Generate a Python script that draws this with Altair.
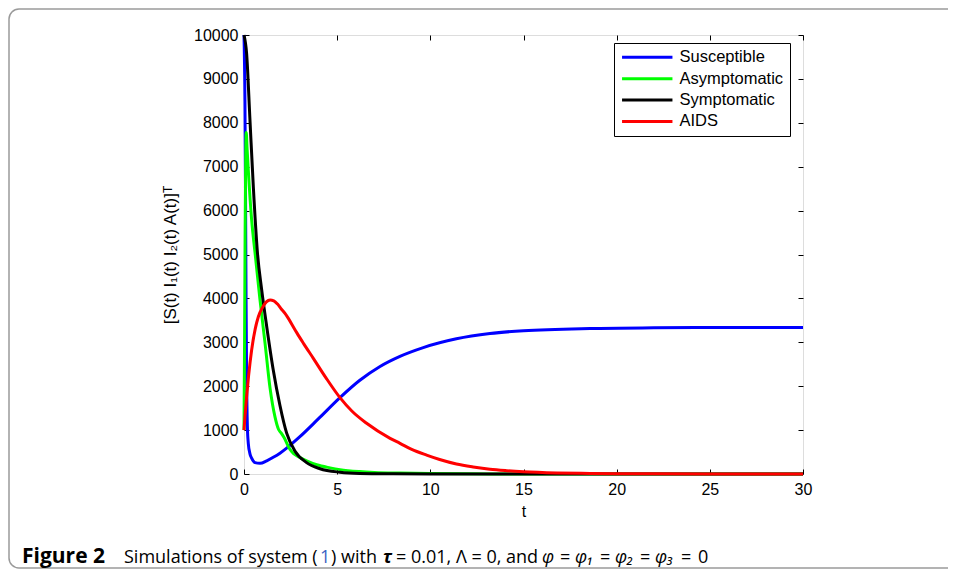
import altair as alt
import pandas as pd

series_names = ["Susceptible", "Asymptomatic", "Symptomatic", "AIDS"]
series_colors = ["#0000ff", "#00ff00", "#000000", "#ff0000"]

t_sus = [0, 0.05, 0.08, 0.11, 0.14, 0.18, 0.23, 0.32, 0.41, 0.59, 0.86, 1.22, 1.57, 1.93,
         2.29, 3.0, 4.0, 5.15, 6.2, 7.3, 8.37, 9.62, 11.4, 13.2, 15.0, 18.57, 22, 26, 30]
v_sus = [10000, 8500, 6500, 4000, 2200, 1100, 700, 460, 360, 260, 243, 300, 380, 475,
         590, 850, 1260, 1740, 2130, 2450, 2680, 2880, 3080, 3200, 3265, 3315, 3330, 3336, 3338]

t_asy = [0, 0.03, 0.06, 0.09, 0.12, 0.16, 0.23, 0.41, 0.59, 0.86, 1.13, 1.40, 1.66, 1.85,
         2.0, 2.15, 2.47, 2.65, 2.92, 3.36, 3.9, 4.62, 5.15, 6.2, 7.0, 8.37, 10, 12, 15, 20, 30]
v_asy = [1000, 3000, 5500, 7200, 7780, 7450, 6925, 5786, 5050, 3964, 2977, 1950, 1306, 1020,
         930, 830, 560, 470, 395, 300, 210, 140, 100, 55, 35, 20, 10, 4, 1, 0, 0]

t_sym = [0, 0.14, 0.32, 0.5, 0.72, 0.95, 1.22, 1.57, 1.93, 2.29, 2.74, 3.36, 4.08, 5.15,
         6.2, 8, 10, 30]
v_sym = [10000, 9583, 8064, 6545, 5050, 4191, 3356, 2369, 1560, 930, 520, 260, 120, 40,
         12, 3, 0, 0]

t_aids = [0, 0.05, 0.14, 0.25, 0.41, 0.6, 0.77, 1.0, 1.2, 1.4, 1.6, 1.8, 2.0, 2.2, 2.38,
          2.65, 2.83, 3.2, 3.72, 4.4, 5.15, 5.8, 6.58, 7.84, 8.37, 9.0, 9.8, 10.5, 11.4,
          12.3, 13.2, 14.1, 15.0, 16.8, 18.57, 20, 22, 25, 30]
v_aids = [1000, 1300, 1761, 2250, 2825, 3300, 3583, 3800, 3920, 3964, 3945, 3870, 3760,
          3660, 3546, 3350, 3220, 2970, 2635, 2190, 1740, 1430, 1155, 813, 699, 560, 430,
          330, 228, 160, 107, 75, 52, 25, 12, 6, 3, 1, 0]

x_ticks = [0, 5, 10, 15, 20, 25, 30]
y_ticks = [0, 1000, 2000, 3000, 4000, 5000, 6000, 7000, 8000, 9000, 10000]

rows = []
for name, ts, vs in zip(series_names, [t_sus, t_asy, t_sym, t_aids],
                        [v_sus, v_asy, v_sym, v_aids]):
    for t, v in zip(ts, vs):
        rows.append({"t": t, "value": v, "series": name})
df = pd.DataFrame(rows)

W, H = 559, 439
PAD_L, PAD_T, PAD_R, PAD_B = 236, 27, 145, 96
FONT = "Liberation Sans"
CAP_FONT = "Open Sans"

xs = alt.Scale(domain=[0, 30], nice=False, zero=False)
ys = alt.Scale(domain=[0, 10000], nice=False)

lines = alt.Chart(df).mark_line(strokeWidth=3, interpolate="monotone").encode(
    x=alt.X("t:Q", scale=xs, axis=alt.Axis(
        title="t", values=x_ticks, ticks=False, tickSize=0, labelPadding=7,
        domain=False, grid=False, labelFont=FONT, labelFontSize=16,
        titleFont=FONT, titleFontSize=16, titleFontWeight="normal",
        labelColor="black", titleColor="black", titlePadding=6, labelFlush=False)),
    y=alt.Y("value:Q", scale=ys, axis=alt.Axis(
        title="[S(t) I₁(t) I₂(t) A(t)]ᵀ", values=y_ticks, format="d", ticks=False,
        tickSize=0, labelPadding=6, domain=False, grid=False, labelFont=FONT,
        labelFontSize=16, titleFont=FONT, titleFontSize=17, titleFontWeight="normal",
        labelColor="black", titleColor="black", titlePadding=14, labelFlush=False)),
    color=alt.Color("series:N", scale=alt.Scale(domain=series_names, range=series_colors),
                    legend=alt.Legend(
                        title=None, orient="none", legendX=370, legendY=8,
                        symbolType="M-4.2,0H4.2", symbolSize=144, symbolStrokeWidth=3,
                        symbolOffset=19, labelOffset=24,
                        labelFont=FONT, labelFontSize=16.5, labelColor="black",
                        rowPadding=4.4, padding=6, strokeColor="black", fillColor="white",
                        labelLimit=300)),
    order=alt.Order("t:Q"),
    detail="series:N",
)

# inner ticks: bottom & left edges
ticks_a = alt.Chart(df).mark_line(opacity=0).encode(
    x=alt.X("t:Q", scale=xs, axis=alt.Axis(
        orient="top", offset=-H, labels=False, title=None, domain=False, grid=False,
        values=x_ticks, tickSize=5, tickColor="black", tickWidth=1)),
    y=alt.Y("value:Q", scale=ys, axis=alt.Axis(
        orient="right", offset=-W, labels=False, title=None, domain=False, grid=False,
        values=y_ticks, tickSize=5, tickColor="black", tickWidth=1)),
)
# inner ticks: top & right edges
ticks_b = alt.Chart(df).mark_line(opacity=0).encode(
    x=alt.X("t:Q", scale=xs, axis=alt.Axis(
        orient="bottom", offset=-H, labels=False, title=None, domain=False, grid=False,
        values=x_ticks, tickSize=5, tickColor="black", tickWidth=1)),
    y=alt.Y("value:Q", scale=ys, axis=alt.Axis(
        orient="left", offset=-W, labels=False, title=None, domain=False, grid=False,
        values=y_ticks, tickSize=5, tickColor="black", tickWidth=1)),
)

one = pd.DataFrame({"k": [0]})
frame = alt.Chart(one).mark_rect(
    fill="white", fillOpacity=0, stroke="#9a9a9a", strokeWidth=1.5,
    cornerRadiusTopLeft=10, cornerRadiusBottomLeft=10).encode(
    x=alt.value(-PAD_L + 1), x2=alt.value(W + PAD_R + 20),
    y=alt.value(-PAD_T + 1), y2=alt.value(H + PAD_B - 2))

cap_y = 528
caption_parts = [
    ("Figure 2", 22, "bold", "normal", "black", 21),
    ("Simulations of system (", 124, "normal", "normal", "black", 18),
    ("1", 320, "normal", "normal", "#3b62c4", 18),
    (") with", 331, "normal", "normal", "black", 18),
    ("τ", 383, "bold", "italic", "black", 18),
    ("= 0.01, Λ = 0, and", 396, "normal", "normal", "black", 18),
    ("φ", 542, "normal", "italic", "black", 18),
    ("=", 560, "normal", "normal", "black", 18),
    ("φ₁", 575, "normal", "italic", "black", 18),
    ("=", 600, "normal", "normal", "black", 18),
    ("φ₂", 615, "normal", "italic", "black", 18),
    ("=", 640, "normal", "normal", "black", 18),
    ("φ₃", 655, "normal", "italic", "black", 18),
    ("=", 681, "normal", "normal", "black", 18),
    ("0", 698, "normal", "normal", "black", 18),
]
caps = []
for txt, px, wt, st, col, fs in caption_parts:
    caps.append(alt.Chart(one).mark_text(
        align="left", baseline="alphabetic", font=CAP_FONT, fontSize=fs,
        fontWeight=wt, fontStyle=st, color=col).encode(
        x=alt.value(px - 8 - PAD_L), y=alt.value(cap_y), text=alt.value(txt)))

chart = alt.layer(frame, lines, ticks_a, ticks_b, *caps).resolve_axis(
    x="independent", y="independent"
).properties(
    width=W, height=H,
    autosize=alt.AutoSizeParams(type="none"),
    padding={"left": PAD_L, "top": PAD_T, "right": PAD_R, "bottom": PAD_B},
).configure_view(stroke="black", strokeWidth=1).configure(background="white")

chart.save("out.html", embed_options={"renderer": "svg", "actions": False})
